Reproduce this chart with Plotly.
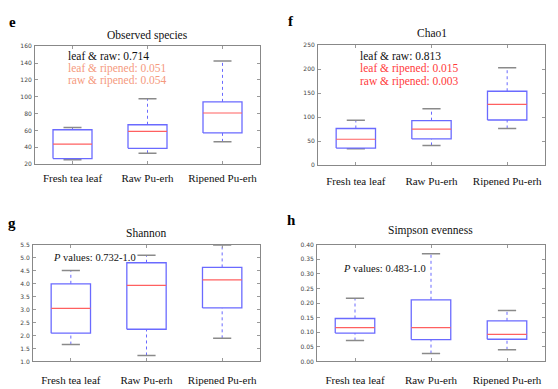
import plotly.graph_objects as go

categories = ["Fresh tea leaf", "Raw Pu-erh", "Ripened Pu-erh"]

# panel e: Observed species  (low whisker, q1, median, q3, high whisker)
obs_low = [25, 32.8, 46.4]
obs_q1 = [26.5, 38.7, 57]
obs_med = [43.7, 58.9, 80.7]
obs_q3 = [60.8, 66.7, 93.9]
obs_high = [63.5, 97.5, 142.5]

# panel f: Chao1
chao_low = [34, 40.9, 76.3]
chao_q1 = [35.4, 54.5, 94]
chao_med = [53.8, 75, 126.7]
chao_q3 = [76.3, 92.6, 154]
chao_high = [93.3, 117.5, 203]

# panel g: Shannon
sha_low = [1.65, 1.23, 1.89]
sha_q1 = [2.09, 2.24, 3.06]
sha_med = [3.04, 3.93, 4.14]
sha_q3 = [3.99, 4.80, 4.62]
sha_high = [4.50, 5.09, 5.48]

# panel h: Simpson evenness
sim_low = [0.0715, 0.027, 0.040]
sim_q1 = [0.097, 0.075, 0.076]
sim_med = [0.116, 0.116, 0.093]
sim_q3 = [0.147, 0.211, 0.139]
sim_high = [0.216, 0.369, 0.174]

panels = [
    dict(name="e", title="Observed species", low=obs_low, q1=obs_q1, med=obs_med, q3=obs_q3, high=obs_high,
         yr=[20, 160], dt=20, fmt="d", px=(35, 260, 43, 163), so=4, ty=32),
    dict(name="f", title="Chao1", low=chao_low, q1=chao_q1, med=chao_med, q3=chao_q3, high=chao_high,
         yr=[0, 250], dt=50, fmt="d", px=(318, 545, 42, 164), so=6, ty=30),
    dict(name="g", title="Shannon", low=sha_low, q1=sha_q1, med=sha_med, q3=sha_q3, high=sha_high,
         yr=[1.0, 5.5], dt=0.5, fmt=".1f", px=(33, 260, 245, 364), so=8, ty=233),
    dict(name="h", title="Simpson evenness", low=sim_low, q1=sim_q1, med=sim_med, q3=sim_q3, high=sim_high,
         yr=[0, 0.40], dt=0.05, fmt=".2f", px=(317, 545, 245, 364), so=8, ty=231),
]

W, H = 558, 389
BW = 0.26
CW = 0.12
BLUE = "#6a6aff"
RED = "#ff6060"
CAP = "#8a8a8a"
SERIF = "Liberation Serif"

fig = go.Figure()
layout = dict(width=W, height=H, margin=dict(l=0, r=0, t=0, b=0),
              paper_bgcolor="white", plot_bgcolor="white", showlegend=False)
annotations = []

for i, p in enumerate(panels):
    k = "" if i == 0 else str(i + 1)
    xa, ya = "x" + k, "y" + k
    bx, by, mx, my, wx, wy, cx, cy = [], [], [], [], [], [], [], []
    for j in range(len(categories)):
        bx += [j - BW, j + BW, j + BW, j - BW, j - BW, None]
        by += [p["q1"][j], p["q1"][j], p["q3"][j], p["q3"][j], p["q1"][j], None]
        mx += [j - BW, j + BW, None]
        my += [p["med"][j], p["med"][j], None]
        wx += [j, j, None, j, j, None]
        wy += [p["low"][j], p["q1"][j], None, p["q3"][j], p["high"][j], None]
        cx += [j - CW, j + CW, None, j - CW, j + CW, None]
        cy += [p["low"][j], p["low"][j], None, p["high"][j], p["high"][j], None]
    fig.add_trace(go.Scatter(x=wx, y=wy, mode="lines", line=dict(color=BLUE, width=1, dash="3px,3px"),
                             xaxis=xa, yaxis=ya, hoverinfo="skip"))
    fig.add_trace(go.Scatter(x=cx, y=cy, mode="lines", line=dict(color=CAP, width=1.5),
                             xaxis=xa, yaxis=ya, hoverinfo="skip"))
    fig.add_trace(go.Scatter(x=bx, y=by, mode="lines", line=dict(color=BLUE, width=1.3),
                             xaxis=xa, yaxis=ya, hoverinfo="skip"))
    fig.add_trace(go.Scatter(x=mx, y=my, mode="lines", line=dict(color=RED, width=1.2),
                             xaxis=xa, yaxis=ya, hoverinfo="skip"))

    x0, x1, y0, y1 = p["px"]
    xd = [x0 / W, x1 / W]
    yd = [1 - y1 / H, 1 - y0 / H]
    n = round((p["yr"][1] - p["yr"][0]) / p["dt"])
    tv = [p["yr"][0] + t * p["dt"] for t in range(n + 1)]
    tt = [format(int(round(v)), "d") if p["fmt"] == "d" else format(v, p["fmt"]) for v in tv]
    layout["xaxis" + k] = dict(domain=xd, range=[-0.5, 2.5], anchor=ya, tickmode="array",
                               tickvals=[0, 1, 2], ticktext=categories, ticks="inside", ticklen=3,
                               tickcolor="#999", showline=True, linecolor="#888", linewidth=1,
                               mirror="allticks", showgrid=False, zeroline=False, fixedrange=True,
                               tickfont=dict(family=SERIF, size=11, color="#111"),
                               ticklabelstandoff=p["so"])
    layout["yaxis" + k] = dict(domain=yd, range=p["yr"], anchor=xa, tickmode="array",
                               tickvals=tv, ticktext=tt, ticks="inside", ticklen=3,
                               tickcolor="#999", showline=True, linecolor="#888", linewidth=1,
                               mirror="allticks", showgrid=False, zeroline=False, fixedrange=True,
                               tickfont=dict(family="DejaVu Sans", size=6, color="#444"),
                               ticklabelstandoff=1)
    annotations.append(dict(text=p["title"], x=(xd[0] + xd[1]) / 2, y=1 - p["ty"] / H,
                            xref="paper", yref="paper", showarrow=False, xanchor="center",
                            yanchor="middle", font=dict(family=SERIF, size=11.5, color="#111")))

# panel letters
for name, lx, ly in [("e", 12, 18), ("f", 291, 17), ("g", 12, 223), ("h", 291, 220)]:
    annotations.append(dict(text="<b>" + name + "</b>", x=lx / W, y=1 - ly / H, xref="paper", yref="paper",
                            showarrow=False, xanchor="center", yanchor="middle",
                            font=dict(family=SERIF, size=15, color="black")))

# p-value texts
pv_e = ["leaf & raw: 0.714", "leaf & ripened: 0.051", "raw & ripened: 0.054"]
pv_e_col = ["#111", "#f59a7e", "#f59a7e"]
pv_f = ["leaf & raw: 0.813", "leaf & ripened: 0.015", "raw & ripened: 0.003"]
pv_f_col = ["#111", "#ff3b3b", "#ff3b3b"]
for idx, (t, c) in enumerate(zip(pv_e, pv_e_col)):
    annotations.append(dict(text=t, x=66 / W, y=1 - (53 + 12.6 * idx) / H, xref="paper", yref="paper",
                            showarrow=False, xanchor="left", yanchor="middle",
                            font=dict(family=SERIF, size=11.5, color=c)))
for idx, (t, c) in enumerate(zip(pv_f, pv_f_col)):
    annotations.append(dict(text=t, x=358 / W, y=1 - (53 + 12.8 * idx) / H, xref="paper", yref="paper",
                            showarrow=False, xanchor="left", yanchor="middle",
                            font=dict(family=SERIF, size=11.5, color=c)))
annotations.append(dict(text="<i>P</i> values: 0.732-1.0", x=51 / W, y=1 - 258 / H, xref="paper", yref="paper",
                        showarrow=False, xanchor="left", yanchor="middle",
                        font=dict(family=SERIF, size=10.5, color="#111")))
annotations.append(dict(text="<i>P</i> values: 0.483-1.0", x=341 / W, y=1 - 269 / H, xref="paper", yref="paper",
                        showarrow=False, xanchor="left", yanchor="middle",
                        font=dict(family=SERIF, size=10.5, color="#111")))

layout["annotations"] = annotations
fig.update_layout(**layout)
fig.write_html("out.html", config={"displayModeBar": False},
               post_script="document.body.style.margin='0px';document.body.style.padding='0px';")
